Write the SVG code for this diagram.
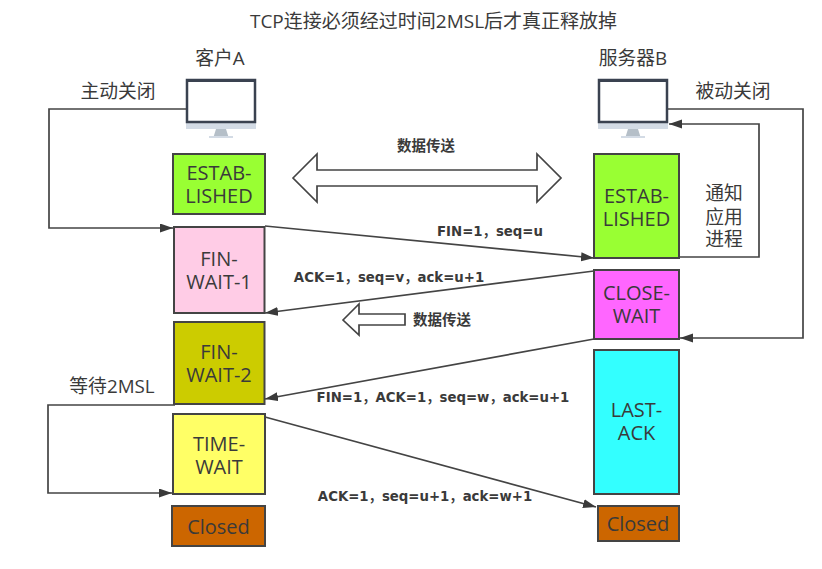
<svg xmlns="http://www.w3.org/2000/svg" width="822" height="569" viewBox="0 0 822 569">
<style>
text{font-family:"Open Sans","Noto Sans CJK SC",sans-serif;fill:#3a3a3a;text-anchor:middle}
.n rect{stroke:#444;stroke-width:2}
.n text{font-size:20px}
.l{font-size:18.800px}
.b{font-size:13.300px;font-weight:700;font-family:"DejaVu Sans","Noto Sans CJK SC",sans-serif}
.d{font-size:14.500px;font-weight:700}
.c{fill:none;stroke:#444;stroke-width:1.7}
.f{fill:#fff;stroke:#444;stroke-width:1.7}
</style>
<defs>
<marker id="a" markerWidth="14" markerHeight="10" refX="13" refY="4.5" orient="auto" markerUnits="userSpaceOnUse"><path d="M0 0L13 4.5L0 9z" fill="#3a3a3a"/></marker>
<g id="mon">
<rect x="0" y="44" width="70" height="6" fill="#d3dbe5"/>
<path d="M30 50h10l2.500 8h-15z" fill="#b5bfc8"/>
<rect x="23" y="57" width="24" height="2" fill="#d3dbe5"/>
<rect x="1" y="1" width="68" height="42" fill="#fff" stroke="#3a4250" stroke-width="2.500"/>
<rect x="0" y="0" width="70" height="3" fill="#3a4250"/>
</g>
</defs>
<rect width="822" height="569" fill="#fff"/>
<text x="433.500" y="28" style="font-size:19px">TCP连接必须经过时间2MSL后才真正释放掉</text>
<text x="220" y="65" class="l">客户A</text>
<text x="633" y="65" class="l">服务器B</text>
<text x="118" y="98" class="l">主动关闭</text>
<text x="733" y="98" class="l">被动关闭</text>
<text x="112" y="393" class="l">等待2MSL</text>
<text x="724" y="200" class="l">通知<tspan x="724" y="224">应用</tspan><tspan x="724" y="246">进程</tspan></text>
<text x="426" y="151" class="d">数据传送</text>
<text x="442" y="325" class="d">数据传送</text>
<text x="490" y="236" class="b">FIN=1，seq=u</text>
<text x="389" y="282" class="b">ACK=1，seq=v，ack=u+1</text>
<text x="443" y="402" class="b">FIN=1，ACK=1，seq=w，ack=u+1</text>
<text x="425" y="501" class="b">ACK=1，seq=u+1，ack=w+1</text>
<g id="clientA"><use href="#mon" x="186" y="79"/></g>
<g id="serverB"><use href="#mon" x="598" y="79"/></g>
<g id="connectors">
<path class="c" d="M186 109H49V228H173" marker-end="url(#a)"/>
<path class="c" d="M668 109H803V338H680" marker-end="url(#a)"/>
<path class="c" d="M679 257H759V124H669" marker-end="url(#a)"/>
<path class="c" d="M265 226L594 258" marker-end="url(#a)"/>
<path class="c" d="M594 271L265 313" marker-end="url(#a)"/>
<path class="c" d="M594 339L265 399" marker-end="url(#a)"/>
<path class="c" d="M265 417L596 507" marker-end="url(#a)"/>
<path class="c" d="M175 405H48V493H172" marker-end="url(#a)"/>
<path class="f" d="M293 178L317 154V170H537V154L561 178L537 202V186H317V202Z"/>
<path class="f" d="M343 320L359 304V314H405V325H359V335Z"/>
</g>
<g id="established-a" class="n"><rect x="173" y="154" width="92" height="60" fill="#99ff33"/><text x="219" y="180">ESTAB-<tspan x="219" y="203">LISHED</tspan></text></g>
<g id="fin-wait-1" class="n"><rect x="174" y="227" width="90.500" height="86" fill="#ffcce6"/><text x="219" y="266">FIN-<tspan x="219" y="289">WAIT-1</tspan></text></g>
<g id="fin-wait-2" class="n"><rect x="174" y="322" width="90.500" height="82" fill="#cccc00"/><text x="219" y="359">FIN-<tspan x="219" y="382">WAIT-2</tspan></text></g>
<g id="time-wait" class="n"><rect x="173" y="414" width="92" height="80" fill="#ffff66"/><text x="219" y="451">TIME-<tspan x="219" y="474">WAIT</tspan></text></g>
<g id="closed-a" class="n"><rect x="172" y="506" width="93" height="40" fill="#cc6600"/><text x="218.500" y="534">Closed</text></g>
<g id="established-b" class="n"><rect x="594" y="154" width="85" height="104" fill="#99ff33"/><text x="636.500" y="203">ESTAB-<tspan x="636.500" y="226">LISHED</tspan></text></g>
<g id="close-wait" class="n"><rect x="594" y="270" width="85" height="69" fill="#ff66ff"/><text x="636.500" y="300">CLOSE-<tspan x="636.500" y="323">WAIT</tspan></text></g>
<g id="last-ack" class="n"><rect x="594" y="350" width="85" height="144" fill="#33ffff"/><text x="636.500" y="417">LAST-<tspan x="636.500" y="440">ACK</tspan></text></g>
<g id="closed-b" class="n"><rect x="598" y="506" width="81" height="35" fill="#cc6600"/><text x="638" y="531">Closed</text></g>
</svg>
